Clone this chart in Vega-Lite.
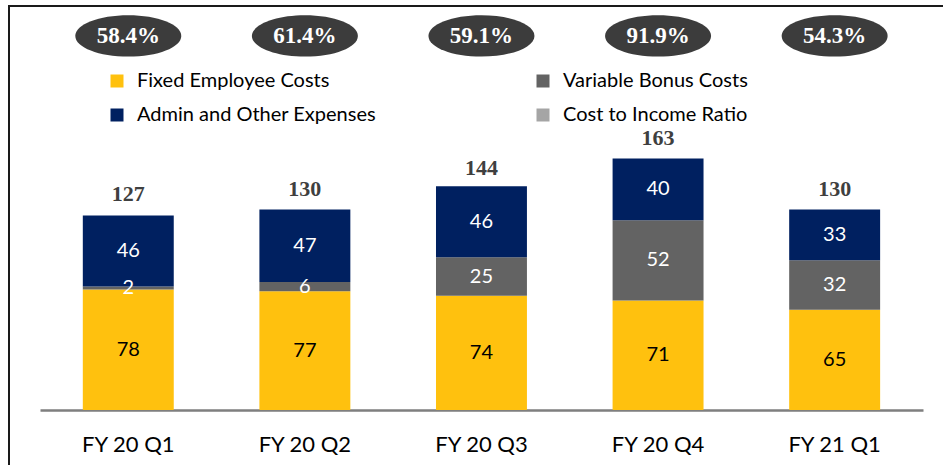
{
  "$schema": "https://vega.github.io/schema/vega-lite/v6.json",
  "width": 934,
  "height": 459,
  "autosize": {"type": "none"},
  "padding": {"left": 9, "top": 6, "right": 0, "bottom": 0},
  "background": "white",
  "datasets": {
    "costs": [
      {"quarter": "FY 20 Q1", "category": "Fixed Employee Costs", "value": 78, "seq": 1},
      {"quarter": "FY 20 Q1", "category": "Variable Bonus Costs", "value": 2, "seq": 2},
      {"quarter": "FY 20 Q1", "category": "Admin and Other Expenses", "value": 46, "seq": 3},
      {"quarter": "FY 20 Q2", "category": "Fixed Employee Costs", "value": 77, "seq": 1},
      {"quarter": "FY 20 Q2", "category": "Variable Bonus Costs", "value": 6, "seq": 2},
      {"quarter": "FY 20 Q2", "category": "Admin and Other Expenses", "value": 47, "seq": 3},
      {"quarter": "FY 20 Q3", "category": "Fixed Employee Costs", "value": 74, "seq": 1},
      {"quarter": "FY 20 Q3", "category": "Variable Bonus Costs", "value": 25, "seq": 2},
      {"quarter": "FY 20 Q3", "category": "Admin and Other Expenses", "value": 46, "seq": 3},
      {"quarter": "FY 20 Q4", "category": "Fixed Employee Costs", "value": 71, "seq": 1},
      {"quarter": "FY 20 Q4", "category": "Variable Bonus Costs", "value": 52, "seq": 2},
      {"quarter": "FY 20 Q4", "category": "Admin and Other Expenses", "value": 40, "seq": 3},
      {"quarter": "FY 21 Q1", "category": "Fixed Employee Costs", "value": 65, "seq": 1},
      {"quarter": "FY 21 Q1", "category": "Variable Bonus Costs", "value": 32, "seq": 2},
      {"quarter": "FY 21 Q1", "category": "Admin and Other Expenses", "value": 33, "seq": 3}
    ],
    "totals": [
      {"quarter": "FY 20 Q1", "total": 127, "ratio": "58.4%"},
      {"quarter": "FY 20 Q2", "total": 130, "ratio": "61.4%"},
      {"quarter": "FY 20 Q3", "total": 144, "ratio": "59.1%"},
      {"quarter": "FY 20 Q4", "total": 163, "ratio": "91.9%"},
      {"quarter": "FY 21 Q1", "total": 130, "ratio": "54.3%"}
    ]
  },
  "encoding": {
    "x": {
      "field": "quarter",
      "type": "nominal",
      "sort": null,
      "scale": {"paddingInner": 0.485, "paddingOuter": 0.387, "align": 0.54},
      "axis": {
        "title": null,
        "orient": "bottom",
        "offset": -55,
        "labelAngle": 0,
        "labelFont": "Lato",
        "labelFontSize": 22,
        "labelColor": "#000000",
        "labelPadding": 24,
        "ticks": false,
        "domainColor": "#7f7f7f",
        "domainWidth": 2.5,
        "domainDash": [0, 31, 883, 3000],
        "grid": false
      }
    }
  },
  "layer": [
    {
      "data": {"name": "costs"},
      "mark": {"type": "bar"},
      "encoding": {
        "y": {
          "field": "value",
          "type": "quantitative",
          "stack": "zero",
          "scale": {"domain": [-35.65, 261.8], "nice": false, "zero": false},
          "axis": null
        },
        "order": {"field": "seq", "type": "quantitative"},
        "color": {
          "field": "category",
          "type": "nominal",
          "scale": {
            "domain": ["Fixed Employee Costs", "Variable Bonus Costs", "Admin and Other Expenses", "Cost to Income Ratio"],
            "range": ["#FFC10E", "#636363", "#002060", "#A5A5A5"]
          },
          "legend": {
            "title": null,
            "orient": "none",
            "direction": "horizontal",
            "legendX": 98,
            "legendY": 65,
            "columns": 2,
            "columnPadding": 156,
            "rowPadding": 14,
            "symbolType": "square",
            "symbolSize": 169,
            "symbolStrokeWidth": 0,
            "symbolOpacity": 1,
            "labelFont": "Lato",
            "labelFontSize": 20,
            "labelColor": "#000000",
            "labelOffset": 10,
            "labelLimit": 400
          }
        }
      }
    },
    {
      "data": {"name": "costs"},
      "mark": {"type": "text", "font": "Lato", "fontSize": 20, "baseline": "middle", "align": "center"},
      "encoding": {
        "y": {"field": "value", "type": "quantitative", "stack": "zero", "bandPosition": 0.5},
        "order": {"field": "seq", "type": "quantitative"},
        "detail": {"field": "category"},
        "text": {"field": "value", "type": "quantitative"},
        "color": {
          "condition": {"test": "datum.category === 'Fixed Employee Costs'", "value": "#000000"},
          "value": "#ffffff"
        }
      }
    },
    {
      "data": {"name": "totals"},
      "mark": {"type": "text", "font": "Liberation Serif", "fontWeight": "bold", "fontSize": 22, "baseline": "alphabetic", "align": "center", "dy": -13, "color": "#3f3f3f"},
      "encoding": {
        "y": {"field": "total", "type": "quantitative"},
        "text": {"field": "total", "type": "quantitative"}
      }
    },
    {
      "data": {"name": "totals"},
      "mark": {"type": "point", "filled": true, "shape": "M-1,0A1,0.39,0,1,0,1,0A1,0.39,0,1,0,-1,0Z", "size": 11236, "color": "#3c3c3c", "opacity": 1, "strokeWidth": 0},
      "encoding": {
        "y": {"datum": 242.4, "type": "quantitative"}
      }
    },
    {
      "data": {"name": "totals"},
      "mark": {"type": "text", "font": "Liberation Serif", "fontWeight": "bold", "fontSize": 23, "baseline": "middle", "align": "center", "color": "#ffffff"},
      "encoding": {
        "y": {"datum": 242.4, "type": "quantitative"},
        "text": {"field": "ratio", "type": "nominal"}
      }
    }
  ],
  "config": {
    "view": {"stroke": "#1a1a1a", "strokeWidth": 2, "strokeDash": [934, 1393, 480]}
  }
}
